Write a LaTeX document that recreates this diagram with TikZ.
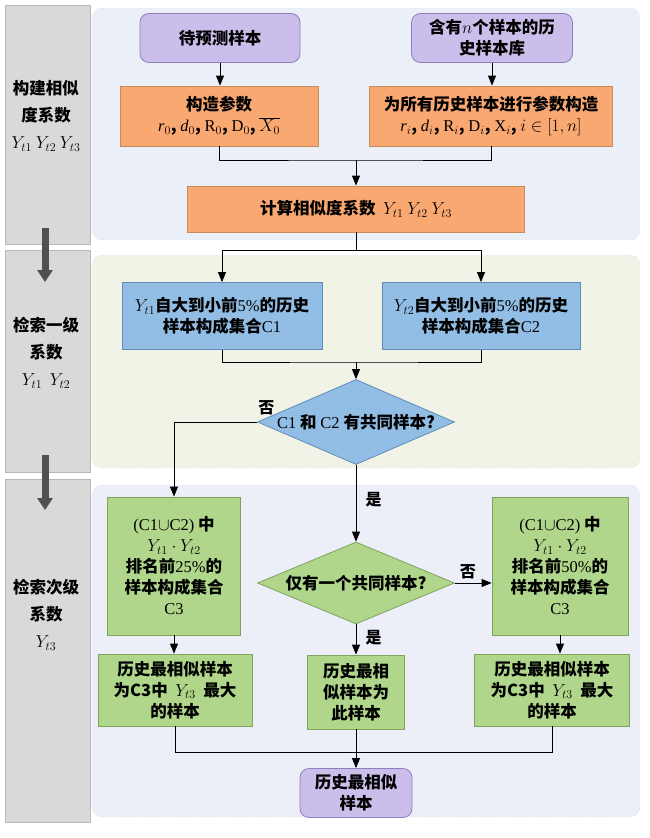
\documentclass[tikz,border=0pt]{standalone}
\usepackage{fontspec}
\usepackage{xcolor}
\usetikzlibrary{shapes.geometric,arrows.meta}
\setmainfont{Noto Sans CJK SC}
\newfontfamily\lat{Liberation Serif}
\definecolor{sidegray}{HTML}{D9D9D9}
\definecolor{sideline}{HTML}{B8B8B8}
\definecolor{panelone}{HTML}{EBF0F8}
\definecolor{paneltwo}{HTML}{F0F3E6}
\definecolor{panelthree}{HTML}{ECEFF8}
\definecolor{termfill}{HTML}{CBBEEB}
\definecolor{termline}{HTML}{8F7FBF}
\definecolor{procfill}{HTML}{FAA872}
\definecolor{procline}{HTML}{C98A5A}
\definecolor{selfill}{HTML}{92BEE6}
\definecolor{selline}{HTML}{5F8DB8}
\definecolor{pickfill}{HTML}{AFD68A}
\definecolor{pickline}{HTML}{7FA35E}
\definecolor{arrowgray}{HTML}{505050}
\newcommand{\lt}[1]{{\lat\mdseries #1}}

\tikzset{
  box/.style={draw, line width=0.8pt, align=center, inner sep=2pt,
    font=\fontsize{16.5}{21}\selectfont\bfseries},
  term/.style={box, draw=termline, fill=termfill, rounded corners=9pt},
  proc/.style={box, draw=procline, fill=procfill},
  sel/.style={box, draw=selline, fill=selfill},
  pick/.style={box, draw=pickline, fill=pickfill},
  ask/.style={diamond, draw, line width=0.8pt, inner sep=0pt,
    font=\fontsize{16.5}{21}\selectfont\bfseries},
  side/.style={align=center, font=\fontsize{16.5}{27}\selectfont\bfseries},
  tag/.style={font=\fontsize{16}{18}\selectfont\bfseries},
  flow/.style={line width=0.8pt, -{Triangle[length=10pt,width=8pt]}},
  link/.style={line width=0.8pt},
  stage/.style={line width=7pt, arrowgray, -{Triangle[length=12pt,width=15pt]}}
}

\begin{document}
\begin{tikzpicture}[x=1pt,y=-1pt]
    \useasboundingbox (0,0) rectangle (650,838);

    \fill[sidegray, draw=sideline] (5,5) rectangle (90,244);
    \fill[sidegray, draw=sideline] (5,250) rectangle (90,472);
    \fill[sidegray, draw=sideline] (5,479) rectangle (90,822);
    \draw[panelone!75!gray, densely dotted, fill=panelone, rounded corners=10pt] (92,8) rectangle (640,240);
    \draw[paneltwo!75!gray, densely dotted, fill=paneltwo, rounded corners=10pt] (92,255) rectangle (640,468);
    \draw[panelthree!75!gray, densely dotted, fill=panelthree, rounded corners=10pt] (92,485) rectangle (640,817);

    \node[side] (sone) at (46,116) {构建相似\\度系数\\$Y_{t1}\ Y_{t2}\ Y_{t3}$};
    \node[side] (stwo) at (46,353) {检索一级\\系数\\$Y_{t1}\ \ Y_{t2}$};
    \node[side] (sthree) at (46,615) {检索次级\\系数\\$Y_{t3}$};
    \coordinate (aonetop) at (45,228);
    \coordinate (aonebot) at (45,282);
    \coordinate (atwotop) at (45,455);
    \coordinate (atwobot) at (45,510);
    \draw[stage] (aonetop) -- (aonebot);
    \draw[stage] (atwotop) -- (atwobot);

    \node[term, minimum width=160, minimum height=49] (wait) at (220,38) {待预测样本};
    \node[term, minimum width=161, minimum height=49] (lib) at (492,38) {含有$n$个样本的历\\史样本库};
    \node[proc, minimum width=198, minimum height=60] (mkzero) at (219,116)
        {构造参数\\\lt{\itshape r}$_0$, \lt{\itshape d}$_0$, \lt{R}$_0$, \lt{D}$_0$, $\overline{X_0}$};
    \node[proc, minimum width=243, minimum height=60] (mkall) at (491,116)
        {为所有历史样本进行参数构造\\\lt{\itshape r}$_i$, \lt{\itshape d}$_i$, \lt{R}$_i$, \lt{D}$_i$, \lt{X}$_i$, $i\in[1,n]$};
    \node[proc, minimum width=337, minimum height=46] (calc) at (356,209)
        {计算相似度系数 \ $Y_{t1}\ Y_{t2}\ Y_{t3}$};

    \node[sel, minimum width=200, minimum height=67] (selone) at (222,316)
        {$Y_{t1}$自大到小前\lt{5\%}的历史\\样本构成集合\lt{C1}};
    \node[sel, minimum width=198, minimum height=67] (seltwo) at (481,316)
        {$Y_{t2}$自大到小前\lt{5\%}的历史\\样本构成集合\lt{C2}};
    \node[ask, fill=selfill, draw=selline, minimum width=197, minimum height=85] (askone) at (356,422)
        {\makebox[0pt]{\lt{C1} 和 \lt{C2} 有共同样本?}};

    \node[pick, minimum width=133, minimum height=138] (pickone) at (174,566)
        {\lt{(C1$\cup$C2)} 中\\$Y_{t1}\cdot Y_{t2}$\\排名前\lt{25\%}的\\样本构成集合\\\lt{C3}};
    \node[ask, fill=pickfill, draw=pickline, minimum width=197, minimum height=82] (asktwo) at (356,583)
        {\makebox[0pt]{仅有一个共同样本?}};
    \node[pick, minimum width=136, minimum height=138] (picktwo) at (560,566)
        {\lt{(C1$\cup$C2)} 中\\$Y_{t1}\cdot Y_{t2}$\\排名前\lt{50\%}的\\样本构成集合\\\lt{C3}};

    \node[pick, minimum width=154, minimum height=72] (bestone) at (175,690)
        {历史最相似样本\\为C3中 \ $Y_{t3}$ \ 最大\\的样本};
    \node[pick, minimum width=97, minimum height=74] (bestmid) at (356,692)
        {历史最相\\似样本为\\此样本};
    \node[pick, minimum width=155, minimum height=72] (besttwo) at (552,690)
        {历史最相似样本\\为C3中 \ $Y_{t3}$ \ 最大\\的样本};
    \node[term, minimum width=112, minimum height=49] (final) at (356,793) {历史最相似\\样本};

    \draw[flow] (wait) -- (mkzero.north -| wait);
    \draw[flow] (lib) -- (mkall.north -| lib);
    \draw[link] (mkzero) |- (356,160) -| (mkall);
    \draw[flow] (356,160) -- (calc);
    \draw[link] (calc) -- (356,250);
    \draw[flow] (356,250) -| (selone);
    \draw[flow] (356,250) -| (seltwo);
    \draw[link] (selone) |- (356,362) -| (seltwo);
    \draw[flow] (356,362) -- (askone);
    \draw[flow] (askone.west) -| (pickone);
    \node[tag, anchor=south west, inner sep=1pt, yshift=6pt] (notone) at (askone.west) {否};
    \draw[flow] (askone) -- node[tag, pos=0.45, right=6pt] (yesone) {是} (asktwo);
    \draw[flow] (asktwo.east) -- node[tag, pos=0.35, above] (nottwo) {否} (picktwo.west |- asktwo.east);
    \draw[flow] (asktwo) -- node[tag, pos=0.45, right=6pt] (yestwo) {是} (bestmid);
    \draw[flow] (pickone) -- (bestone.north -| pickone);
    \draw[flow] (picktwo) -- (besttwo.north -| picktwo);
    \draw[link] (bestone) |- (356,752) -| (besttwo);
    \draw[flow] (bestmid) -- (final);
\end{tikzpicture}
\end{document}
